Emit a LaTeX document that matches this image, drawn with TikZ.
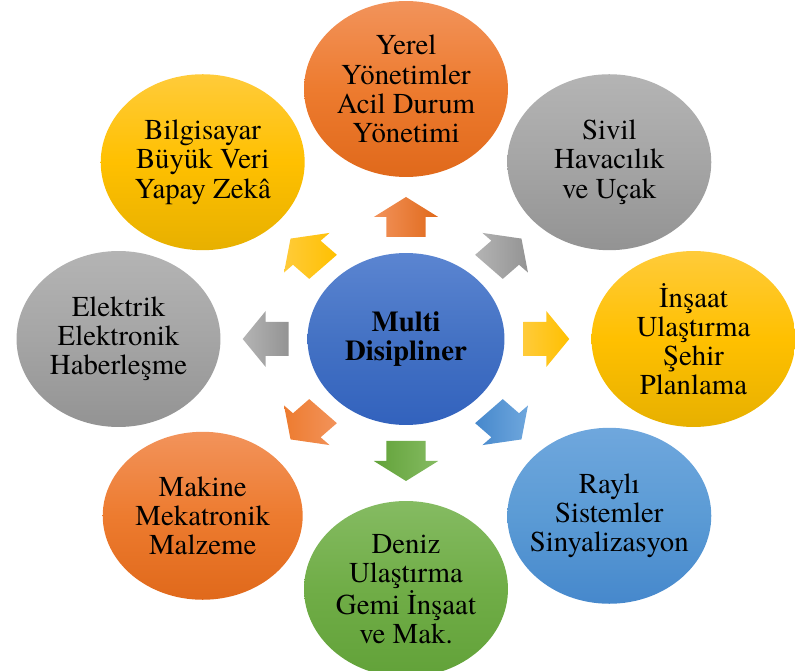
\documentclass[tikz,border=0pt]{standalone}
\usepackage{fontspec}
\setmainfont{texgyretermes}[Extension=.otf, UprightFont=*-regular, BoldFont=*-bold]
\usetikzlibrary{shapes.geometric}

\definecolor{orangeA}{HTML}{F2935B}
\definecolor{orangeB}{HTML}{ED7B2F}
\definecolor{orangeC}{HTML}{E0691B}
\definecolor{grayA}{HTML}{B4B4B4}
\definecolor{grayB}{HTML}{A5A5A5}
\definecolor{grayC}{HTML}{939393}
\definecolor{yellowA}{HTML}{FFCB3A}
\definecolor{yellowB}{HTML}{FFC000}
\definecolor{yellowC}{HTML}{E7B000}
\definecolor{blueA}{HTML}{6FA7DD}
\definecolor{blueB}{HTML}{5B9BD5}
\definecolor{blueC}{HTML}{4688CC}
\definecolor{greenA}{HTML}{85BB62}
\definecolor{greenB}{HTML}{70AD47}
\definecolor{greenC}{HTML}{62A239}
\definecolor{navyA}{HTML}{5B85D1}
\definecolor{navyB}{HTML}{4472C4}
\definecolor{navyC}{HTML}{3262BD}

\tikzset{
	bubble/.style={ellipse, minimum width=4.08cm, minimum height=3.52cm, inner sep=-1cm,
		align=center, font=\fontsize{16.4pt}{16.6pt}\selectfont},
	orangefill/.style={top color=orangeA, bottom color=orangeC, middle color=orangeB},
	grayfill/.style={top color=grayA, bottom color=grayC, middle color=grayB},
	yellowfill/.style={top color=yellowA, bottom color=yellowC, middle color=yellowB},
	bluefill/.style={top color=blueA, bottom color=blueC, middle color=blueB},
	greenfill/.style={top color=greenA, bottom color=greenC, middle color=greenB},
	navyfill/.style={top color=navyA, bottom color=navyC, middle color=navyB}
}

\begin{document}
\begin{tikzpicture}[x=0.02cm, y=0.02cm]
		%%%%% START %%%%%
		
		\clip (0, 0) rectangle (795, 670);
		
		\begin{scope}[shift={(406, 331)}, xscale=1.15]
		
		\node[bubble, navyfill, minimum width=3.94cm, minimum height=3.44cm,
			font=\fontsize{16.4pt}{16.6pt}\selectfont\bfseries] (multi) at (0, 0) {Multi\\Disipliner};
		
		\node[bubble, orangefill] (yerel) at (90:250) {Yerel\\Yönetimler\\Acil Durum\\Yönetimi};
		\node[bubble, grayfill] (sivil) at (45:250) {Sivil\\Havacılık\\ve Uçak};
		\node[bubble, yellowfill] (insaat) at (0:250) {İnşaat\\Ulaştırma\\Şehir\\Planlama};
		\node[bubble, bluefill] (rayli) at (-45:250) {Raylı\\Sistemler\\Sinyalizasyon};
		\node[bubble, greenfill] (deniz) at (-90:250) {Deniz\\Ulaştırma\\Gemi İnşaat\\ve Mak.};
		\node[bubble, orangefill, minimum width=4.0cm, minimum height=3.36cm] (makine) at (-135:250) {Makine\\Mekatronik\\Malzeme};
		\node[bubble, grayfill] (elektrik) at (180:250) {Elektrik\\Elektronik\\Haberleşme};
		\node[bubble, yellowfill] (bilgisayar) at (135:250) {Bilgisayar\\Büyük Veri\\Yapay Zekâ};
		
		% block arrows out of the centre
		\foreach \ang/\ca/\cc in {90/orangeA/orangeC, 45/grayA/grayC, 0/yellowA/yellowB,
				-45/blueC/blueA, -90/greenC/greenA, -135/orangeB/orangeA,
				180/grayA/grayC, 135/yellowA/yellowB}
			\shade[rotate=\ang, left color=\ca, right color=\cc]
				(102, -17) -- (122, -17) -- (122, -28) -- (142, 0)
				-- (122, 28) -- (122, 17) -- (102, 17) -- cycle;
		
		\end{scope}
		
		%%%%% END %%%%%
\end{tikzpicture}
\end{document}
